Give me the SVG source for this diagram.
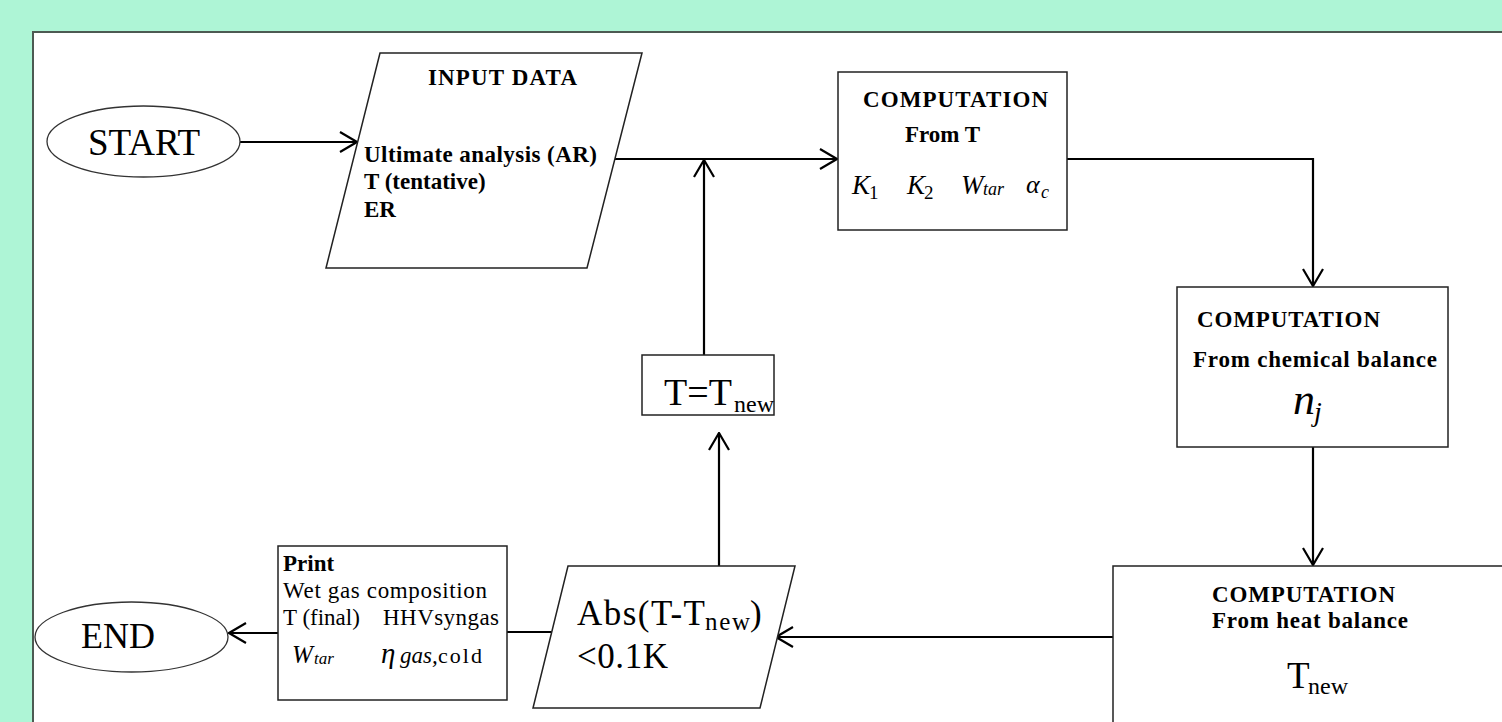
<svg xmlns="http://www.w3.org/2000/svg" width="1502" height="722" viewBox="0 0 1502 722">
<defs>
<style>
.shape{fill:#fff;stroke:#222;stroke-width:1.5}
.oval{fill:#fff;stroke:#333;stroke-width:1.3}
.conn{fill:none;stroke:#000;stroke-width:2.2}
.t{font-family:"Liberation Serif","Times New Roman",serif;fill:#000}
.b{font-weight:bold}
.i{font-style:italic}
</style>
<marker id="arr" viewBox="0 0 20 24" refX="19" refY="12" markerWidth="20" markerHeight="24" markerUnits="userSpaceOnUse" orient="auto">
<path d="M2,2 L19,12 L2,22" fill="none" stroke="#000" stroke-width="2.2"/>
</marker>
</defs>
<rect x="0" y="0" width="1502" height="722" fill="#aef5d6"/>
<rect x="33" y="32" width="1480" height="700" fill="#fff" stroke="#4d5a52" stroke-width="2"/>

<g id="connectors">
<path class="conn" d="M240,142 L357,142" marker-end="url(#arr)"/>
<path class="conn" d="M615,159 L837,159" marker-end="url(#arr)"/>
<path class="conn" d="M704,355 L704,160" marker-end="url(#arr)"/>
<path class="conn" d="M1067,159 L1313,159 L1313,286" marker-end="url(#arr)"/>
<path class="conn" d="M1313,447 L1313,565" marker-end="url(#arr)"/>
<path class="conn" d="M1113,637 L776,637" marker-end="url(#arr)"/>
<path class="conn" d="M719,566 L719,433" marker-end="url(#arr)"/>
<path class="conn" d="M552,632 L507,632"/>
<path class="conn" d="M278,633 L229,633" marker-end="url(#arr)"/>
</g>

<g id="start">
<ellipse class="oval" cx="143.5" cy="141.5" rx="96.5" ry="35.5"/>
<text class="t" x="144" y="155" font-size="37" text-anchor="middle">START</text>
</g>

<g id="input">
<polygon class="shape" points="380,53 642,53 587,268 326,268"/>
<text class="t b" x="428" y="85" font-size="23" textLength="149">INPUT DATA</text>
<text class="t b" x="364" y="162" font-size="23" textLength="233">Ultimate analysis (AR)</text>
<text class="t b" x="364" y="189" font-size="23">T (tentative)</text>
<text class="t b" x="364" y="217" font-size="23">ER</text>
</g>

<g id="comp-t">
<rect class="shape" x="838" y="72" width="229" height="158"/>
<text class="t b" x="863" y="107" font-size="23" textLength="185">COMPUTATION</text>
<text class="t b" x="905" y="142" font-size="23">From T</text>
<text class="t i" x="852" y="194" font-size="27">K</text>
<text class="t" x="869" y="199" font-size="19">1</text>
<text class="t i" x="907" y="194" font-size="27">K</text>
<text class="t" x="924" y="199" font-size="19">2</text>
<text class="t i" x="961" y="194" font-size="27">W</text>
<text class="t i" x="983" y="195" font-size="18">tar</text>
<text class="t i" x="1026" y="193" font-size="26">α</text>
<text class="t i" x="1041" y="198" font-size="18">c</text>
</g>

<g id="comp-chem">
<rect class="shape" x="1177" y="287" width="271" height="160"/>
<text class="t b" x="1197" y="327" font-size="23" textLength="183">COMPUTATION</text>
<text class="t b" x="1193" y="367" font-size="23" textLength="244">From chemical balance</text>
<text class="t i" x="1293" y="414" font-size="44">n</text>
<text class="t i" x="1314" y="421" font-size="28">j</text>
</g>

<g id="comp-heat">
<rect class="shape" x="1113" y="566" width="420" height="180"/>
<text class="t b" x="1212" y="602" font-size="23" textLength="183">COMPUTATION</text>
<text class="t b" x="1212" y="628" font-size="23" textLength="196">From heat balance</text>
<text class="t" x="1287" y="688" font-size="37">T</text>
<text class="t" x="1308" y="694" font-size="24">new</text>
</g>

<g id="t-new">
<rect class="shape" x="642" y="355" width="132" height="60"/>
<text class="t" x="664" y="405" font-size="38">T=T</text>
<text class="t" x="734" y="412" font-size="24">new</text>
</g>

<g id="check">
<polygon class="shape" points="568,566 795,566 760,708 533,708"/>
<text class="t" x="577" y="625" font-size="35" textLength="128">Abs(T-T</text>
<text class="t" x="705" y="630" font-size="25" textLength="45">new</text>
<text class="t" x="750" y="625" font-size="35">)</text>
<text class="t" x="577" y="668" font-size="35" textLength="91">&lt;0.1K</text>
</g>

<g id="print">
<rect class="shape" x="278" y="546" width="229" height="154"/>
<text class="t b" x="283" y="571" font-size="23">Print</text>
<text class="t" x="283" y="598" font-size="23" textLength="204">Wet gas composition</text>
<text class="t" x="283" y="625" font-size="23">T (final)</text>
<text class="t" x="383" y="625" font-size="23" textLength="116">HHVsyngas</text>
<text class="t i" x="292" y="663" font-size="25">W</text>
<text class="t i" x="314" y="664" font-size="17">tar</text>
<text class="t i" x="381" y="663" font-size="29">η</text>
<text class="t i" x="400" y="663" font-size="23">gas,</text>
<text class="t" x="438" y="663" font-size="22" textLength="44">cold</text>
</g>

<g id="end">
<ellipse class="oval" cx="131.5" cy="637" rx="96.5" ry="35"/>
<text class="t" x="118" y="648" font-size="36" text-anchor="middle">END</text>
</g>
</svg>
